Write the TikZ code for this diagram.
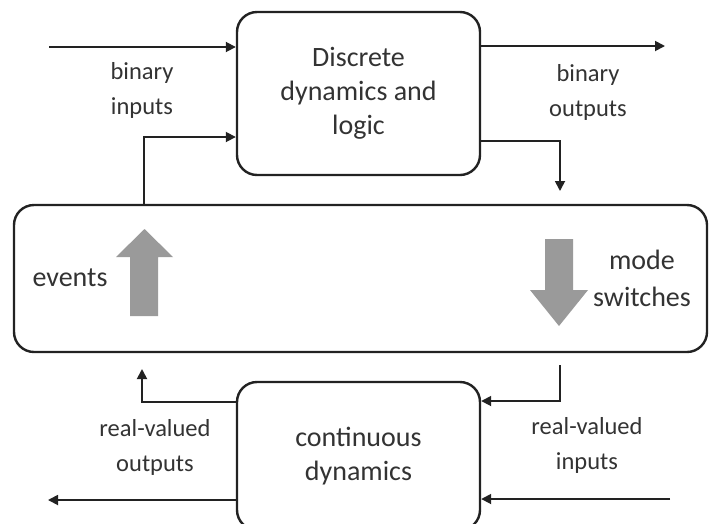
\documentclass[tikz,border=0pt]{standalone}
\usepackage{fontspec}
\setmainfont{Carlito}
\usetikzlibrary{arrows.meta}
\definecolor{txt}{HTML}{333333}
\definecolor{ln}{HTML}{222222}
\definecolor{blk}{HTML}{9A9A9A}
\begin{document}
\begin{tikzpicture}[x=1pt,y=-1pt,
  box/.style={draw=ln,line width=2.4pt,rounded corners=20pt,fill=white,inner sep=0pt,align=center,text=txt,font=\fontsize{28}{34}\selectfont},
  arr/.style={draw=ln,line width=1.8pt,-{Triangle[length=10pt,width=10pt]}},
  lbl/.style={text=txt,align=center,inner sep=0pt,font=\fontsize{24.5}{35}\selectfont},
  inl/.style={text=txt,align=center,inner sep=0pt,font=\fontsize{28}{37}\selectfont},
  blockarrow/.style={fill=blk,draw=none}]
\clip (0,0) rectangle (709,523);
\fill[white] (0,0) rectangle (709,523);
% boxes
\node[box,minimum width=243pt,minimum height=163pt] (disc) at (358.5,93.5) {Discrete\\dynamics and\\logic};
\node[box,minimum width=693pt,minimum height=147pt] (mid) at (360.5,278.5) {};
\node[box,minimum width=243pt,minimum height=148pt] (cont) at (358.5,456) {continuous\\dynamics};
% gray block arrows
\fill[blockarrow] (130,316) -- (130,257) -- (116,257) -- (144.5,229) -- (173,257) -- (158,257) -- (158,316) -- cycle;
\fill[blockarrow] (545,239) -- (545,290) -- (530,290) -- (559,326) -- (588,290) -- (573,290) -- (573,239) -- cycle;
\node[inl] (ev) at (70,278) {events};
\node[inl] (msw) at (642,278) {mode\\switches};
% top connectors
\coordinate (bi) at (49,47);
\draw[arr] (bi) -- (bi -| disc.west);
\coordinate (bo) at (665,46);
\draw[arr] (bo -| disc.east) -- (bo);
\coordinate (evc) at (144,137);
\draw[arr] (evc |- mid.north) |- (evc -| disc.west);
\coordinate (msc) at (560,141);
\coordinate (msd) at (560,191);
\draw[arr] (msc -| disc.east) -| (msd);
% bottom connectors
\coordinate (ro) at (142,402);
\coordinate (rou) at (142,369);
\draw[arr] (ro -| cont.west) -| (rou);
\coordinate (rol) at (48,500);
\draw[arr] (rol -| cont.west) -- (rol);
\coordinate (ri) at (560,365);
\coordinate (rih) at (0,401);
\draw[arr] (ri) |- (rih -| cont.east);
\coordinate (rir) at (670,499);
\draw[arr] (rir) -- (rir -| cont.east);
% labels
\node[lbl] (l1) at (142,90) {binary\\inputs};
\node[lbl] (l2) at (588,92) {binary\\outputs};
\node[lbl] (l3) at (155,447) {real-valued\\outputs};
\node[lbl] (l4) at (587,445) {real-valued\\inputs};
\end{tikzpicture}
\end{document}
